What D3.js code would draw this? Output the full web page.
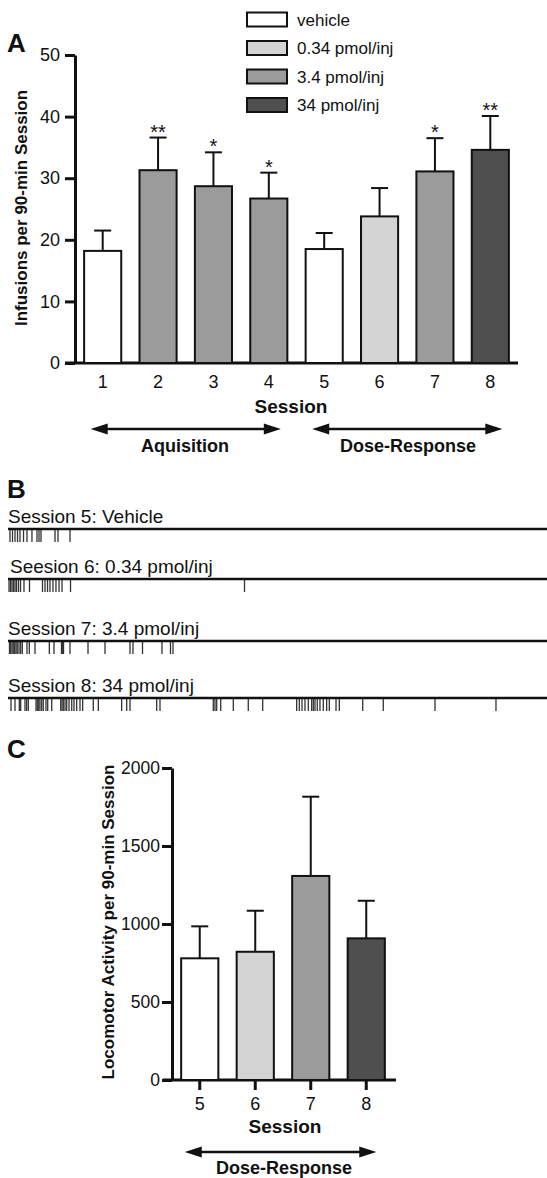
<!DOCTYPE html>
<meta charset="utf-8">
<script src="https://d3js.org/d3.v7.min.js"></script>
<style>
  body { margin: 0; background: #fff; }
  text { font-family: "Liberation Sans", Arial, sans-serif; fill: #111; }
</style>
<div id="my_dataviz"></div>
<script>

// ---- data ----
var doses = ["vehicle", "0.34 pmol/inj", "3.4 pmol/inj", "34 pmol/inj"];
var doseColors = ["#ffffff", "#d4d4d4", "#9b9b9b", "#4f4f4f"];

// panel A: infusions per session
var sessionsA = ["1", "2", "3", "4", "5", "6", "7", "8"];
var doseA = ["vehicle", "3.4 pmol/inj", "3.4 pmol/inj", "3.4 pmol/inj", "vehicle", "0.34 pmol/inj", "3.4 pmol/inj", "34 pmol/inj"];
var infusionMean = [18.2, 31.3, 28.7, 26.7, 18.5, 23.8, 31.1, 34.6];
var infusionSem = [3.3, 5.3, 5.5, 4.2, 2.6, 4.6, 5.4, 5.5];
var infusionStars = ["", "**", "*", "*", "", "", "*", "**"];
var yTicksA = [0, 10, 20, 30, 40, 50];

// panel B: infusion times (min into the 90-min session)
var rasterLabels = ["Session 5: Vehicle", "Seesion 6: 0.34 pmol/inj", "Session 7: 3.4 pmol/inj", "Session 8: 34 pmol/inj"];
var times5 = [0.33, 0.75, 1.17, 1.59, 2.0, 2.59, 3.17, 4.0, 4.84, 5.18, 5.51, 7.85, 8.35, 10.35];
var times6 = [0.17, 0.42, 0.67, 0.92, 1.17, 1.42, 1.75, 2.09, 2.67, 3.59, 5.76, 6.18, 6.6, 7.01, 7.51, 8.01, 8.52, 9.02, 10.44, 39.49];
var times7 = [0.25, 0.45, 0.67, 0.88, 1.12, 1.34, 1.55, 1.84, 2.12, 2.39, 3.17, 3.56, 4.51, 6.9, 7.68, 8.93, 9.1, 9.27, 10.35, 13.36, 16.2, 20.37, 20.87, 22.46, 25.71, 27.13, 27.55];
var times8 = [0.5, 1.17, 1.89, 2.12, 2.84, 3.12, 3.39, 4.68, 4.89, 5.13, 5.34, 5.63, 5.89, 6.34, 6.63, 7.3, 8.8, 9.02, 9.23, 9.52, 9.8, 10.19, 10.64, 11.02, 11.47, 12.02, 12.47, 14.24, 15.08, 18.98, 19.82, 20.37, 24.83, 25.38, 34.28, 34.56, 34.85, 35.52, 37.62, 40.12, 42.53, 48.2, 48.64, 49.09, 49.59, 50.14, 50.71, 50.98, 51.26, 51.64, 52.09, 52.65, 53.21, 53.65, 54.77, 55.32, 59.23, 62.66, 71.3, 81.48];

// panel C: locomotor activity
var sessionsC = ["5", "6", "7", "8"];
var doseC = ["vehicle", "0.34 pmol/inj", "3.4 pmol/inj", "34 pmol/inj"];
var locoMean = [780, 822, 1308, 908];
var locoSem = [205, 263, 508, 241];
var yTicksC = [0, 500, 1000, 1500, 2000];

// ---- svg ----
var W = 547, H = 1178;
var svg = d3.select("#my_dataviz")
  .append("svg")
    .attr("width", W)
    .attr("height", H);

var color = d3.scaleOrdinal().domain(doses).range(doseColors);

function arrow(g, x1, x2, y) {
  g.append("line")
    .attr("x1", x1 + 12).attr("x2", x2 - 12)
    .attr("y1", y).attr("y2", y)
    .attr("stroke", "#111").attr("stroke-width", 2.5);
  g.append("path")
    .attr("d", "M" + x1 + "," + y + "L" + (x1 + 17) + "," + (y - 5.5) + "L" + (x1 + 17) + "," + (y + 5.5) + "Z")
    .attr("fill", "#111");
  g.append("path")
    .attr("d", "M" + x2 + "," + y + "L" + (x2 - 17) + "," + (y - 5.5) + "L" + (x2 - 17) + "," + (y + 5.5) + "Z")
    .attr("fill", "#111");
}

function styleAxis(g) {
  g.select(".domain").attr("stroke", "#111").attr("stroke-width", 3);
  g.selectAll(".tick line").attr("stroke", "#111").attr("stroke-width", 3);
  g.selectAll(".tick text").attr("fill", "#111");
}

// ================= Panel A =================
var gA = svg.append("g");
gA.append("text").attr("x", 7).attr("y", 52)
  .style("font-size", "26px").style("font-weight", "bold").text("A");

var xA = d3.scaleBand()
  .domain(sessionsA)
  .range([75, 518])
  .paddingInner(0.33)
  .paddingOuter(0.165);
var yA = d3.scaleLinear().domain([0, 50]).range([363, 55]);

// y axis
gA.append("g")
  .attr("transform", "translate(75,0)")
  .call(d3.axisLeft(yA).tickValues(yTicksA).tickSize(10).tickSizeOuter(0).tickPadding(5))
  .call(styleAxis)
  .selectAll("text").style("font-size", "18px");

// x axis (labels only, no tick marks)
var xAxA = gA.append("g")
  .attr("transform", "translate(0," + yA(0) + ")")
  .call(d3.axisBottom(xA).tickSize(0).tickPadding(12));
xAxA.select(".domain").remove();
xAxA.selectAll("text").style("font-size", "18px").attr("fill", "#111");
gA.append("line")
  .attr("x1", 65).attr("x2", 518)
  .attr("y1", yA(0)).attr("y2", yA(0))
  .attr("stroke", "#111").attr("stroke-width", 3);

// bars
var barsA = gA.selectAll(".barA")
  .data(sessionsA)
  .enter().append("g").attr("class", "barA");
barsA.append("line")
  .attr("x1", function(d) { return xA(d) + xA.bandwidth() / 2; })
  .attr("x2", function(d) { return xA(d) + xA.bandwidth() / 2; })
  .attr("y1", function(d, i) { return yA(infusionMean[i]); })
  .attr("y2", function(d, i) { return yA(infusionMean[i] + infusionSem[i]); })
  .attr("stroke", "#111").attr("stroke-width", 2);
barsA.append("line")
  .attr("x1", function(d) { return xA(d) + xA.bandwidth() / 2 - 8.5; })
  .attr("x2", function(d) { return xA(d) + xA.bandwidth() / 2 + 8.5; })
  .attr("y1", function(d, i) { return yA(infusionMean[i] + infusionSem[i]); })
  .attr("y2", function(d, i) { return yA(infusionMean[i] + infusionSem[i]); })
  .attr("stroke", "#111").attr("stroke-width", 2);
barsA.append("rect")
  .attr("x", function(d) { return xA(d); })
  .attr("y", function(d, i) { return yA(infusionMean[i]); })
  .attr("width", xA.bandwidth())
  .attr("height", function(d, i) { return yA(0) - yA(infusionMean[i]); })
  .attr("fill", function(d, i) { return color(doseA[i]); })
  .attr("stroke", "#111").attr("stroke-width", 2);
barsA.append("text")
  .attr("x", function(d) { return xA(d) + xA.bandwidth() / 2; })
  .attr("y", function(d, i) { return yA(infusionMean[i] + infusionSem[i]) + 1; })
  .attr("text-anchor", "middle")
  .style("font-size", "20px")
  .text(function(d, i) { return infusionStars[i]; });

// axis titles
gA.append("text")
  .attr("transform", "translate(27,208) rotate(-90)")
  .attr("text-anchor", "middle")
  .style("font-size", "17px").style("font-weight", "bold")
  .text("Infusions per 90-min Session");
gA.append("text")
  .attr("x", 291).attr("y", 413)
  .attr("text-anchor", "middle")
  .style("font-size", "19px").style("font-weight", "bold")
  .text("Session");

// phase arrows
arrow(gA, xA("1") + xA.bandwidth() / 2 - 12, xA("4") + xA.bandwidth() / 2 + 12, 429);
arrow(gA, xA("5") + xA.bandwidth() / 2 - 12, xA("8") + xA.bandwidth() / 2 + 12, 429);
gA.append("text").attr("x", 185).attr("y", 452).attr("text-anchor", "middle")
  .style("font-size", "18px").style("font-weight", "bold").text("Aquisition");
gA.append("text").attr("x", 408).attr("y", 452).attr("text-anchor", "middle")
  .style("font-size", "18px").style("font-weight", "bold").text("Dose-Response");

// legend
var legend = gA.selectAll(".legend")
  .data(doses)
  .enter().append("g").attr("class", "legend")
  .attr("transform", function(d, i) { return "translate(247," + (19.5 + i * 28.5) + ")"; });
legend.append("rect")
  .attr("x", 0).attr("y", -7)
  .attr("width", 40).attr("height", 14)
  .attr("fill", function(d) { return color(d); })
  .attr("stroke", "#111").attr("stroke-width", 2);
legend.append("text")
  .attr("x", 50).attr("y", 6)
  .style("font-size", "17px")
  .text(function(d) { return d; });

// ================= Panel B =================
var gB = svg.append("g");
gB.append("text").attr("x", 7).attr("y", 498)
  .style("font-size", "26px").style("font-weight", "bold").text("B");

var tScale = d3.scaleLinear().domain([0, 90]).range([8, 547]);
var rowY = [529, 579, 641, 698];
var rasterTimes = [times5, times6, times7, times8];

rasterTimes.forEach(function(times, r) {
  var row = gB.append("g").attr("transform", "translate(0," + rowY[r] + ")");
  row.append("text")
    .attr("x", r === 1 ? 10 : 8).attr("y", -6)
    .style("font-size", "19px")
    .text(rasterLabels[r]);
  row.selectAll("line.tick")
    .data(times)
    .enter().append("line").attr("class", "tick")
    .attr("x1", function(d) { return tScale(d); })
    .attr("x2", function(d) { return tScale(d); })
    .attr("y1", 0).attr("y2", 13)
    .attr("stroke", "#333").attr("stroke-width", 1.3);
  row.append("line")
    .attr("x1", tScale(0)).attr("x2", tScale(90))
    .attr("y1", 0).attr("y2", 0)
    .attr("stroke", "#111").attr("stroke-width", 2.5);
});

// ================= Panel C =================
var gC = svg.append("g");
gC.append("text").attr("x", 7).attr("y", 758)
  .style("font-size", "26px").style("font-weight", "bold").text("C");

var xC = d3.scaleBand()
  .domain(sessionsC)
  .range([172, 394])
  .paddingInner(0.33)
  .paddingOuter(0.165);
var yC = d3.scaleLinear().domain([0, 2000]).range([1080, 768]);

gC.append("g")
  .attr("transform", "translate(172,0)")
  .call(d3.axisLeft(yC).tickValues(yTicksC).tickFormat(d3.format("d"))
    .tickSize(10).tickSizeOuter(0).tickPadding(2))
  .call(styleAxis)
  .selectAll("text").style("font-size", "17.5px");

var xAxC = gC.append("g")
  .attr("transform", "translate(0," + yC(0) + ")")
  .call(d3.axisBottom(xC).tickSize(10).tickSizeOuter(0).tickPadding(7))
  .call(styleAxis);
xAxC.select(".domain").remove();
xAxC.selectAll("text").style("font-size", "18px");
gC.append("line")
  .attr("x1", 163).attr("x2", 396)
  .attr("y1", yC(0)).attr("y2", yC(0))
  .attr("stroke", "#111").attr("stroke-width", 3);

var barsC = gC.selectAll(".barC")
  .data(sessionsC)
  .enter().append("g").attr("class", "barC");
barsC.append("line")
  .attr("x1", function(d) { return xC(d) + xC.bandwidth() / 2; })
  .attr("x2", function(d) { return xC(d) + xC.bandwidth() / 2; })
  .attr("y1", function(d, i) { return yC(locoMean[i]); })
  .attr("y2", function(d, i) { return yC(locoMean[i] + locoSem[i]); })
  .attr("stroke", "#111").attr("stroke-width", 2);
barsC.append("line")
  .attr("x1", function(d) { return xC(d) + xC.bandwidth() / 2 - 8.5; })
  .attr("x2", function(d) { return xC(d) + xC.bandwidth() / 2 + 8.5; })
  .attr("y1", function(d, i) { return yC(locoMean[i] + locoSem[i]); })
  .attr("y2", function(d, i) { return yC(locoMean[i] + locoSem[i]); })
  .attr("stroke", "#111").attr("stroke-width", 2);
barsC.append("rect")
  .attr("x", function(d) { return xC(d); })
  .attr("y", function(d, i) { return yC(locoMean[i]); })
  .attr("width", xC.bandwidth())
  .attr("height", function(d, i) { return yC(0) - yC(locoMean[i]); })
  .attr("fill", function(d, i) { return color(doseC[i]); })
  .attr("stroke", "#111").attr("stroke-width", 2);

gC.append("text")
  .attr("transform", "translate(114,922) rotate(-90)")
  .attr("text-anchor", "middle")
  .style("font-size", "17px").style("font-weight", "bold")
  .text("Locomotor Activity per 90-min Session");
gC.append("text")
  .attr("x", 285).attr("y", 1133)
  .attr("text-anchor", "middle")
  .style("font-size", "19px").style("font-weight", "bold")
  .text("Session");

arrow(gC, xC("5") + xC.bandwidth() / 2 - 15, xC("8") + xC.bandwidth() / 2 + 10, 1152);
gC.append("text").attr("x", 284).attr("y", 1174).attr("text-anchor", "middle")
  .style("font-size", "18px").style("font-weight", "bold").text("Dose-Response");

</script>
